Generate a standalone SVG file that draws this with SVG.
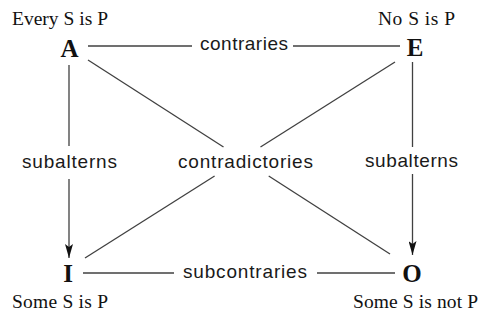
<svg xmlns="http://www.w3.org/2000/svg" width="487" height="320" viewBox="0 0 487 320">
  <style>
    .caption { font-family: "Liberation Serif", "Times New Roman", serif; font-size: 19.5px; fill: #111; text-anchor: middle; }
    .letter { font-family: "Liberation Serif", "Times New Roman", serif; font-size: 25px; font-weight: bold; fill: #111; text-anchor: middle; }
    .label { font-family: "Liberation Sans", Arial, sans-serif; font-size: 19px; fill: #1a1a1a; text-anchor: middle; }
    .edge { stroke: #404040; stroke-width: 1.3; fill: none; }
  </style>
  <defs>
    <marker id="arrow" viewBox="0 0 14 8" refX="14" refY="4" markerWidth="14" markerHeight="8" markerUnits="userSpaceOnUse" orient="auto">
      <path d="M0,0 L14,4 L0,8 L3,4 z" fill="#111"/>
    </marker>
  </defs>
  <rect width="487" height="320" fill="#fff"/>

  <g id="connectors">
    <!-- contraries A-E -->
    <line class="edge" x1="88" y1="46" x2="192" y2="46"/>
    <line class="edge" x1="293" y1="46" x2="400" y2="46"/>
    <!-- subcontraries I-O -->
    <line class="edge" x1="83" y1="273" x2="174" y2="273"/>
    <line class="edge" x1="317" y1="273" x2="395" y2="273"/>
    <!-- subalterns A-I -->
    <line class="edge" x1="69" y1="65" x2="69" y2="146"/>
    <line class="edge" x1="69" y1="179" x2="69" y2="258" marker-end="url(#arrow)"/>
    <!-- subalterns E-O -->
    <line class="edge" x1="412.5" y1="62" x2="412.5" y2="147"/>
    <line class="edge" x1="412.5" y1="174" x2="412.5" y2="255" marker-end="url(#arrow)"/>
    <!-- contradictories A-O -->
    <line class="edge" x1="88" y1="60" x2="223.5" y2="147"/>
    <line class="edge" x1="268.7" y1="176" x2="390" y2="254"/>
    <!-- contradictories E-I -->
    <line class="edge" x1="395" y1="62" x2="260.5" y2="147"/>
    <line class="edge" x1="214.6" y1="176" x2="85" y2="258"/>

    <text class="label" x="244" y="50" textLength="88">contraries</text>
    <text class="label" x="245" y="278" textLength="124">subcontraries</text>
    <text class="label" x="245.5" y="168" textLength="135">contradictories</text>
    <text class="label" x="69.5" y="168" textLength="95">subalterns</text>
    <text class="label" x="411.5" y="167" textLength="93">subalterns</text>
  </g>

  <g id="node-A">
    <text class="letter" x="69.5" y="57">A</text>
    <text class="caption" x="60" y="25" textLength="96">Every S is P</text>
  </g>
  <g id="node-E">
    <text class="letter" x="415" y="56">E</text>
    <text class="caption" x="416.5" y="25" textLength="77">No S is P</text>
  </g>
  <g id="node-I">
    <text class="letter" x="68" y="282">I</text>
    <text class="caption" x="60" y="308" textLength="96">Some S is P</text>
  </g>
  <g id="node-O">
    <text class="letter" x="412" y="282">O</text>
    <text class="caption" x="415.5" y="308" textLength="125">Some S is not P</text>
  </g>
</svg>
